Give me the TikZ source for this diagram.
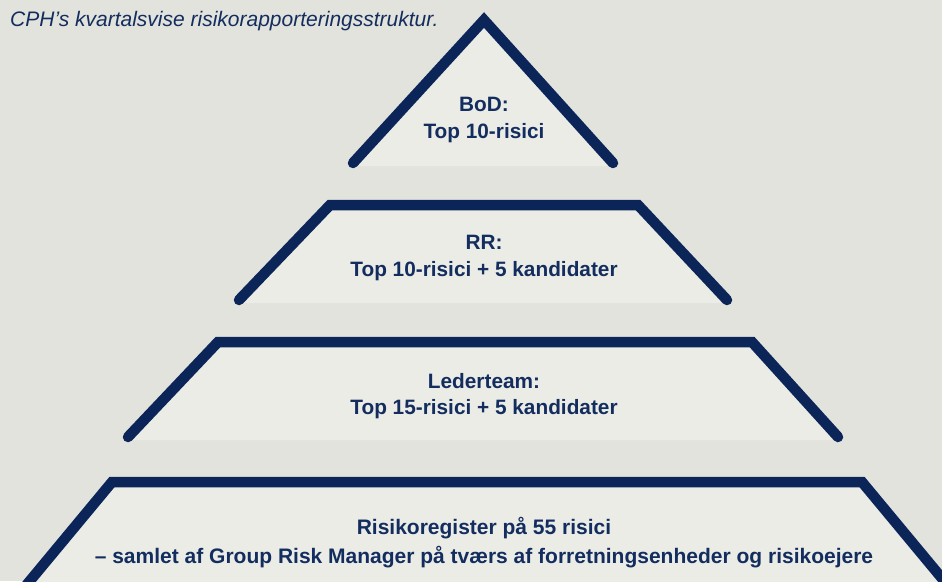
\documentclass[tikz,border=0pt]{standalone}
\usepackage{fontspec}
\setmainfont{Liberation Sans}
\usepackage{tikz}
\usetikzlibrary{positioning}
\definecolor{cphnavy}{RGB}{12,37,88}
\definecolor{cphtext}{RGB}{20,45,95}
\definecolor{paper}{RGB}{226,227,220}
\definecolor{tierfill}{RGB}{235,236,230}

\begin{document}
\begin{tikzpicture}[x=1pt, y=-1pt,
    tier/.style={fill=tierfill},
    rim/.style={draw=cphnavy, line width=10.5pt, line cap=round, line join=miter},
    tiertext/.style={anchor=north, inner sep=0pt, align=center, text=cphtext,
                     font=\bfseries\fontsize{20.8}{26.5}\selectfont}
]

\fill[paper] (0,0) rectangle (942,581);
\useasboundingbox (0,0) rectangle (942,581);
\clip (0,0) rectangle (942,581);

\fill[tier] (351,166) -- (484,20) -- (615,166) -- cycle;
\draw[rim] (353,163) -- (484,20) -- (613,163);

\fill[tier] (237,303) -- (330,205) -- (638,205) -- (729,303) -- cycle;
\draw[rim] (239,300) -- (330,205) -- (638,205) -- (727,300);

\fill[tier] (126,440) -- (218,342) -- (752,342) -- (840,440) -- cycle;
\draw[rim] (128,437) -- (218,342) -- (752,342) -- (838,437);

\fill[tier] (14,600) -- (112,482) -- (862,482) -- (960,600) -- cycle;
\draw[rim] (14,600) -- (112,482) -- (862,482) -- (960,600);

\node[tiertext] (bod) at (484,97) {BoD:\\Top 10-risici};
\node[tiertext] (rr) at (484,235) {RR:\\Top 10-risici + 5 kandidater};
\node[tiertext] (lederteam) at (484,373) {Lederteam:\\Top 15-risici + 5 kandidater};
\node[tiertext, font=\bfseries\fontsize{21}{29}\selectfont] (register) at (484,517)
    {Risikoregister på 55 risici\\– samlet af Group Risk Manager på tværs af forretningsenheder og risikoejere};

\node[anchor=base west, inner sep=0pt, text=cphtext, font=\itshape\fontsize{21}{25}\selectfont]
    (title) at (10,26) {CPH’s kvartalsvise risikorapporteringsstruktur.};

\end{tikzpicture}
\end{document}
